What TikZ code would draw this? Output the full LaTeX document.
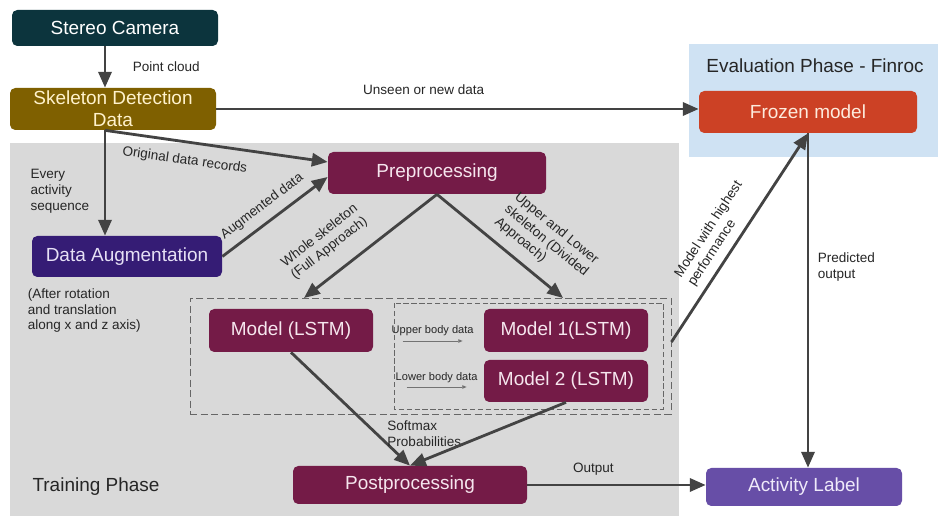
\documentclass[tikz,border=0pt]{standalone}
\usepackage{fontspec}
\setmainfont{Liberation Sans}
\usetikzlibrary{arrows.meta,positioning,fit}
\definecolor{camcol}{HTML}{0C343D}
\definecolor{skelcol}{HTML}{7F6000}
\definecolor{skeltext}{HTML}{FFF2CC}
\definecolor{augcol}{HTML}{351C75}
\definecolor{augtext}{HTML}{E6E0F5}
\definecolor{procol}{HTML}{741B47}
\definecolor{protext}{HTML}{F6E6EE}
\definecolor{frozcol}{HTML}{CC4125}
\definecolor{froztext}{HTML}{FDEBDD}
\definecolor{actcol}{HTML}{674EA7}
\definecolor{acttext}{HTML}{EFEAFA}
\definecolor{trainbg}{HTML}{D9D9D9}
\definecolor{evalbg}{HTML}{CFE2F3}
\definecolor{arrcol}{HTML}{434343}
\begin{document}
\begin{tikzpicture}[x=0.02cm,y=-0.02cm,
    blk/.style={rounded corners=3pt,inner sep=2pt,align=center,text=white,font=\fontsize{10.8}{12.5}\selectfont},
    wh/.style 2 args={minimum width=#1*0.02cm,minimum height=#2*0.02cm},
    title/.style={font=\fontsize{10.8}{12.5}\selectfont,text=black!85},
    lbl/.style={font=\fontsize{7.7}{9}\selectfont,text=black!85,align=left},
    tiny/.style={font=\fontsize{6.3}{7.5}\selectfont,text=black!85,inner sep=1pt},
    flow/.style={draw=arrcol,line width=1.6pt,-{Triangle[length=9pt,width=7.5pt]}},
    hint/.style={draw=black!55,line width=0.5pt,-{Triangle[length=2.5pt,width=2pt]}},
    grpbox/.style={draw=black!60,dash pattern=on 4pt off 2pt,line width=0.5pt}]
  \useasboundingbox (0,0) rectangle (938,516);
  \fill[white] (0,0) rectangle (938,516);
  \fill[trainbg] (10,143) rectangle (679,516);
  \fill[evalbg] (689,44) rectangle (938,157);
  \node[title] (evaltitle) at (815,66) {Evaluation Phase - Finroc};
  \node[title] (traintitle) at (96,487) {Training Phase};

  \node[blk,fill=camcol,wh={206}{36}] (cam) at (115,28) {Stereo Camera};
  \node[blk,fill=skelcol,text=skeltext,wh={206}{42},inner sep=0pt] (skel) at (113,109) {Skeleton Detection\\Data};
  \node[blk,fill=augcol,text=augtext,wh={190}{41}] (aug) at (127,256.5) {Data Augmentation};
  \node[blk,fill=procol,text=protext,wh={218}{42}] (prep) at (437,173) {Preprocessing};
  \node[blk,fill=procol,text=protext,wh={164}{43}] (mlstm) at (291,330.5) {Model (LSTM)};
  \node[blk,fill=procol,text=protext,wh={164}{43}] (m1) at (566,330.5) {Model 1(LSTM)};
  \node[blk,fill=procol,text=protext,wh={164}{42}] (m2) at (566,381) {Model 2 (LSTM)};
  \node[blk,fill=procol,text=protext,wh={234}{38}] (post) at (410,485) {Postprocessing};
  \node[blk,fill=frozcol,text=froztext,wh={218}{42}] (frozen) at (808,112) {Frozen model};
  \node[blk,fill=actcol,text=acttext,wh={196}{38}] (act) at (804,487) {Activity Label};

  \node[grpbox,inner sep=0pt,fit={(190,298) (671,414)}] (grp) {};
  \draw[grpbox,dash pattern=on 3pt off 1.5pt] (394,303) rectangle (663,409);

  \coordinate (colA) at (105,0);
  \coordinate (inA) at (304,298);
  \coordinate (inB) at (563,298);

  \draw[flow] (cam.south -| colA) -- node[lbl,right=0.41cm]{Point cloud} (skel.north -| colA);
  \draw[flow] (skel.east) -- node[lbl,above=0.15cm,pos=0.43]{Unseen or new data} (skel.east -| frozen.west);
  \draw[flow] (skel.south -| colA) -- node[lbl,left=0.17cm,pos=0.58]{Every\\activity\\sequence} (aug.north -| colA);
  \draw[flow] (skel.south -| colA) -- node[lbl,sloped,below=0.1cm,pos=0.37]{Original data records} ([yshift=0.22cm]prep.west);
  \draw[flow] (aug.east) -- node[lbl,sloped,above=0.05cm,pos=0.47]{Augmented data} ([yshift=-0.08cm]prep.west);
  \node[lbl,below right=0.1cm and -0.2cm] (augnote) at (aug.south west) {(After rotation\\and translation\\along x and z axis)};

  \draw[flow] (prep.south) -- node[lbl,sloped,above=0.2cm,pos=0.7]{Whole skeleton\\(Full Approach)} (inA);
  \draw[flow] (prep.south) -- node[lbl,sloped,above=0.08cm,pos=0.7]{Upper and Lower\\skeleton (Divided\\Approach)} (inB);

  \draw[hint] ([xshift=-1.62cm,yshift=-0.21cm]m1.west) -- node[tiny,above=0.06cm]{Upper body data} ([xshift=-0.42cm,yshift=-0.21cm]m1.west);
  \draw[hint] ([xshift=-1.54cm,yshift=-0.12cm]m2.west) -- node[tiny,above=0.04cm]{Lower body data} ([xshift=-0.34cm,yshift=-0.12cm]m2.west);

  \draw[flow] (mlstm.south) -- node[lbl,right=0.07cm,pos=0.72]{Softmax\\Probabilities} (post.north);
  \draw[flow] (m2.south) -- (post.north);
  \draw[flow] ([yshift=0.28cm]grp.east) -- node[lbl,sloped,above=0.02cm,pos=0.46]{Model with highest\\performance} (frozen.south);
  \draw[flow] (frozen.south) -- node[lbl,right=0.05cm,pos=0.4]{Predicted\\output} (frozen.south |- act.north);
  \draw[flow] (post.east) -- node[lbl,above=0.05cm,pos=0.37]{Output} (post.east -| act.west);
\end{tikzpicture}
\end{document}
